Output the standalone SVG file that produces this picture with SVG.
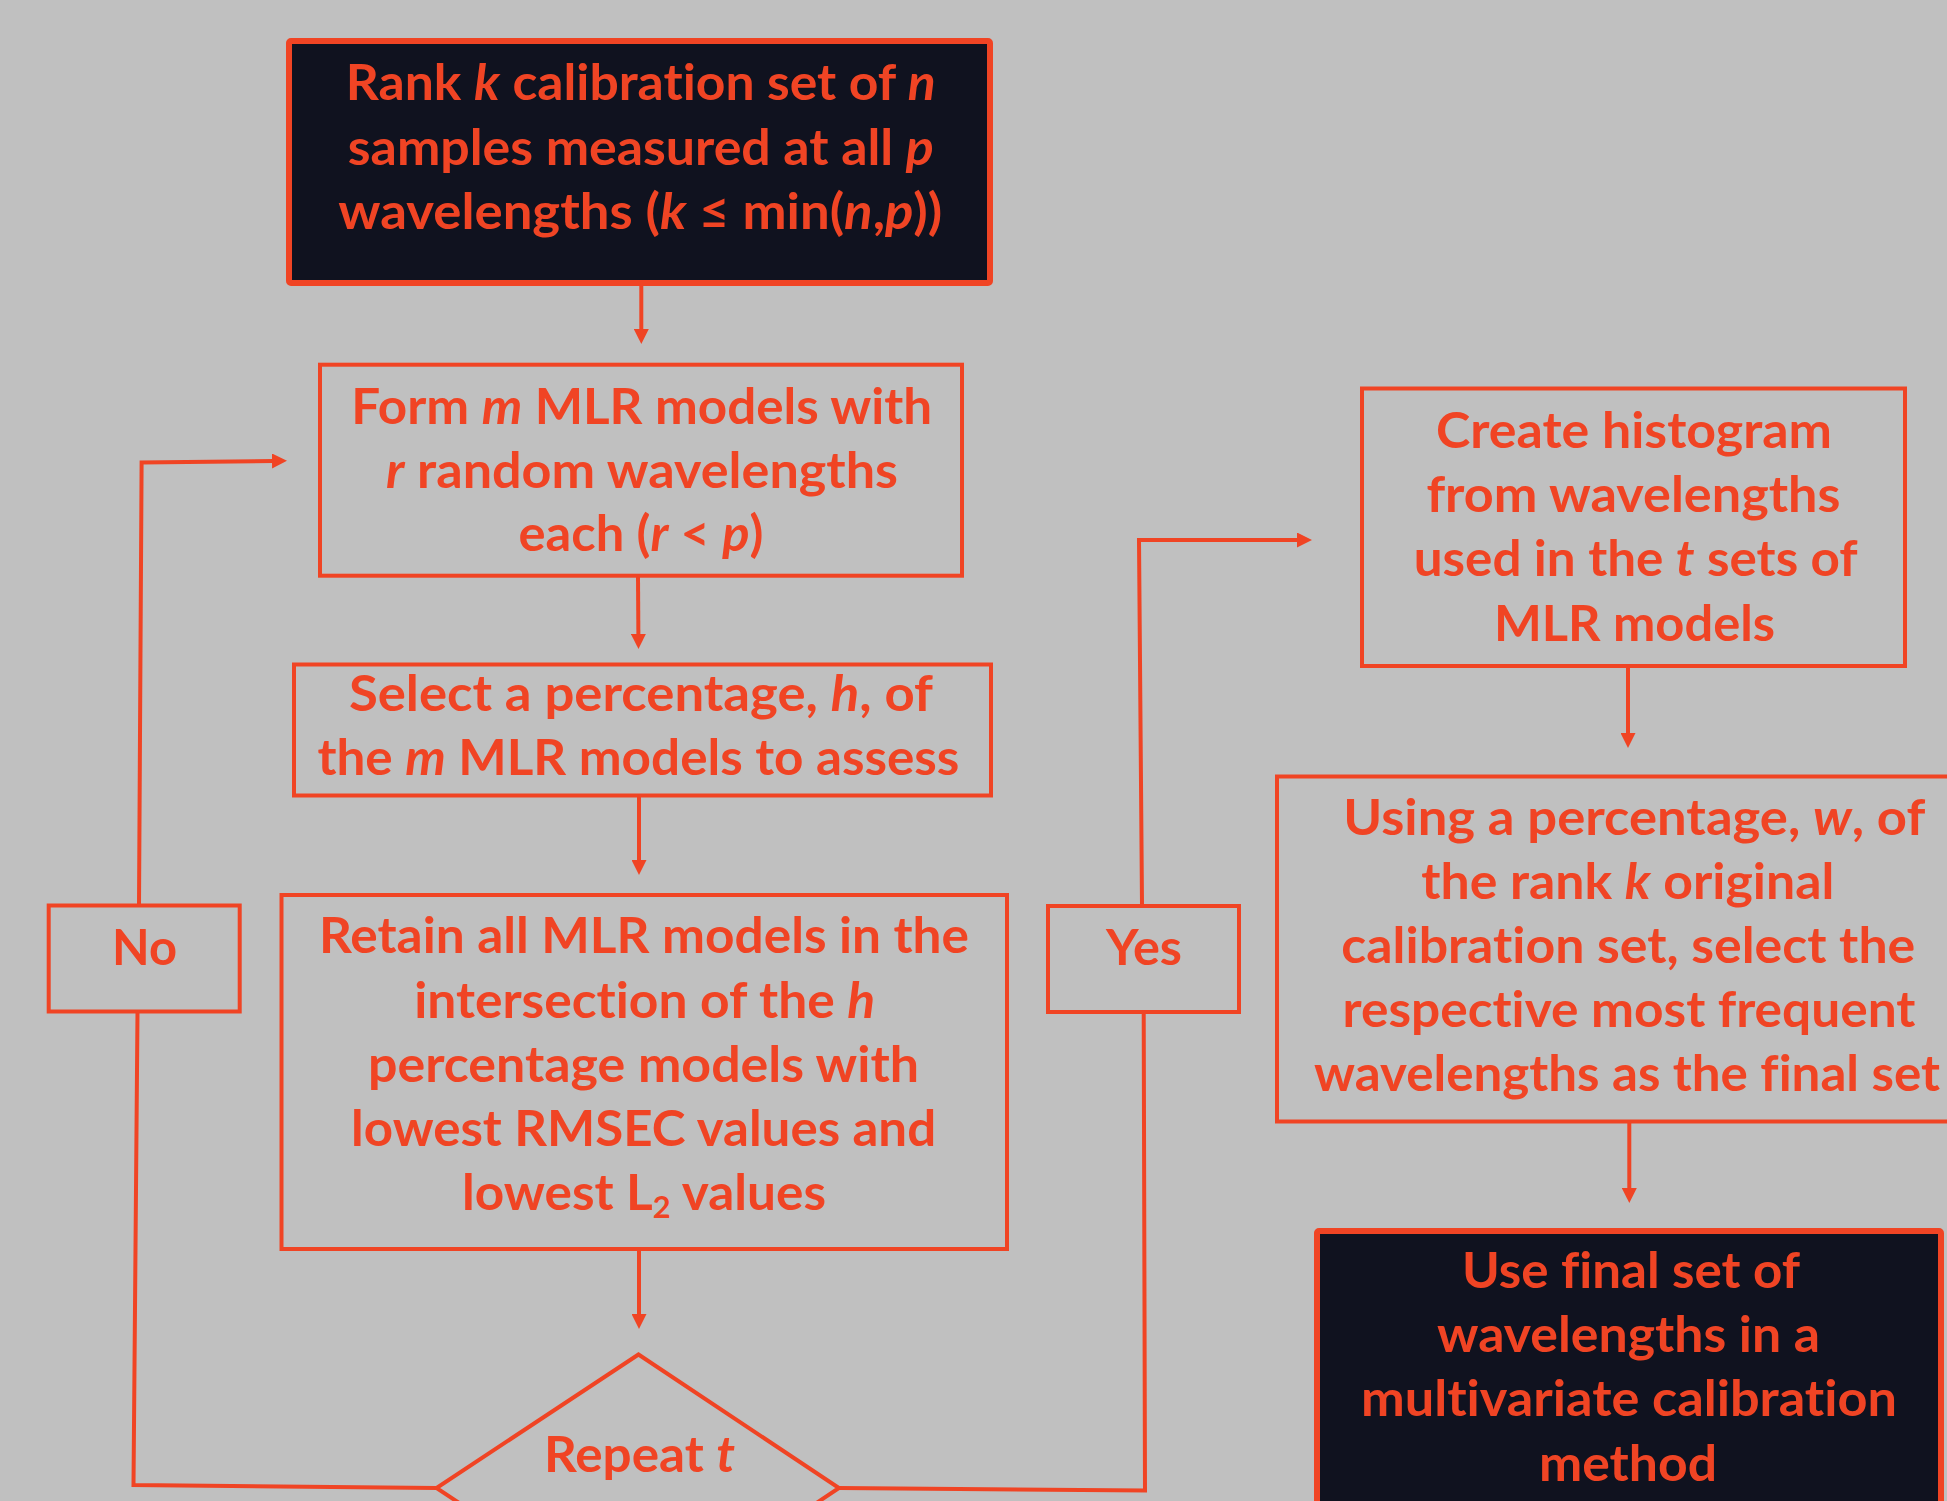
<svg xmlns="http://www.w3.org/2000/svg" width="1947" height="1501" viewBox="0 0 1947 1501">
<style>
.bg{fill:#C0C0C0}
.box{fill:none;stroke:#F04424;stroke-width:4}
.dark{fill:#10121F;stroke:#F04424;stroke-width:6}
.conn{fill:none;stroke:#F04424;stroke-width:4;stroke-linejoin:miter}
.t{fill:#F04424;font-family:Lato,"Open Sans","Liberation Sans",sans-serif;font-weight:700;font-size:50px;text-anchor:middle;font-variant-ligatures:no-common-ligatures no-discretionary-ligatures}
.i{font-style:italic}
.sub{font-size:30px}
</style>
<defs>
<marker id="ah" markerUnits="userSpaceOnUse" markerWidth="15" markerHeight="15" refX="2" refY="7.5" orient="auto">
<path d="M0,0 L15,7.5 L0,15 Z" fill="#F04424"/>
</marker>
</defs>
<rect class="bg" x="0" y="0" width="1947" height="1501"/>

<g id="connectors">
<path class="conn" d="M641.3,286 L641.3,331" marker-end="url(#ah)"/>
<path class="conn" d="M638,577 L638.4,636" marker-end="url(#ah)"/>
<path class="conn" d="M639,797 L639,862" marker-end="url(#ah)"/>
<path class="conn" d="M639,1250 L639,1316" marker-end="url(#ah)"/>
<path class="conn" d="M436.5,1488 L133.5,1485 L137.5,1012"/>
<path class="conn" d="M139,905 L141.6,462.5 L274,461" marker-end="url(#ah)"/>
<path class="conn" d="M839,1488 L1145,1490.5 L1143.7,1012"/>
<path class="conn" d="M1142,905 L1139,540 L1299,540" marker-end="url(#ah)"/>
<path class="conn" d="M1628,667 L1628,735" marker-end="url(#ah)"/>
<path class="conn" d="M1629.3,1122 L1629.3,1190" marker-end="url(#ah)"/>
</g>

<g id="start">
<rect class="dark" x="289" y="41" width="701" height="242" rx="2"/>
<text class="t" x="640.8" y="100" textLength="590" lengthAdjust="spacingAndGlyphs">Rank <tspan class="i">k</tspan> calibration set of <tspan class="i">n</tspan></text>
<text class="t" x="640.8" y="164.5" textLength="586" lengthAdjust="spacingAndGlyphs">samples measured at all <tspan class="i">p</tspan></text>
<text class="t" x="640.3" y="229" textLength="604" lengthAdjust="spacingAndGlyphs">wavelengths (<tspan class="i">k</tspan> ≤ min(<tspan class="i">n</tspan>,<tspan class="i">p</tspan>))</text>
</g>

<g id="form">
<rect class="box" x="320" y="364.7" width="642" height="211"/>
<text class="t" x="641.7" y="424" textLength="581" lengthAdjust="spacingAndGlyphs">Form <tspan class="i">m</tspan> MLR models with</text>
<text class="t" x="642" y="488" textLength="512" lengthAdjust="spacingAndGlyphs"><tspan class="i">r</tspan> random wavelengths</text>
<text class="t" x="641" y="551" textLength="245" lengthAdjust="spacingAndGlyphs">each (<tspan class="i">r</tspan> &lt; <tspan class="i">p</tspan>)</text>
</g>

<g id="select">
<rect class="box" x="294" y="664.5" width="697" height="131"/>
<text class="t" x="640.9" y="711" textLength="584" lengthAdjust="spacingAndGlyphs">Select a percentage, <tspan class="i">h</tspan>, of</text>
<text class="t" x="638.4" y="775" textLength="642" lengthAdjust="spacingAndGlyphs">the <tspan class="i">m</tspan> MLR models to assess</text>
</g>

<g id="retain">
<rect class="box" x="281.5" y="895" width="725.5" height="354"/>
<text class="t" x="644" y="953" textLength="650" lengthAdjust="spacingAndGlyphs">Retain all MLR models in the</text>
<text class="t" x="644.7" y="1018" textLength="461" lengthAdjust="spacingAndGlyphs">intersection of the <tspan class="i">h</tspan></text>
<text class="t" x="643.5" y="1081.6" textLength="551" lengthAdjust="spacingAndGlyphs">percentage models with</text>
<text class="t" x="643.6" y="1146" textLength="585" lengthAdjust="spacingAndGlyphs">lowest RMSEC values and</text>
<text class="t" x="644" y="1210" textLength="364" lengthAdjust="spacingAndGlyphs">lowest L<tspan class="sub" dy="8">2</tspan><tspan dy="-8"> values</tspan></text>
</g>

<g id="decision">
<polygon class="box" points="638.5,1354.5 839,1488 638.5,1621.5 436.5,1488"/>
<text class="t" x="639.5" y="1472" textLength="191" lengthAdjust="spacingAndGlyphs">Repeat <tspan class="i">t</tspan></text>
</g>

<g id="no">
<rect class="box" x="48.7" y="905.5" width="191" height="106"/>
<text class="t" x="144.5" y="965" textLength="65" lengthAdjust="spacingAndGlyphs">No</text>
</g>

<g id="yes">
<rect class="box" x="1048" y="906" width="191" height="106"/>
<text class="t" x="1144" y="965" textLength="76" lengthAdjust="spacingAndGlyphs">Yes</text>
</g>

<g id="histogram">
<rect class="box" x="1362" y="388.5" width="543" height="277.5"/>
<text class="t" x="1634" y="448" textLength="396" lengthAdjust="spacingAndGlyphs">Create histogram</text>
<text class="t" x="1633.4" y="512" textLength="414" lengthAdjust="spacingAndGlyphs">from wavelengths</text>
<text class="t" x="1635.7" y="576" textLength="444" lengthAdjust="spacingAndGlyphs">used in the <tspan class="i">t</tspan> sets of</text>
<text class="t" x="1634.5" y="641" textLength="281" lengthAdjust="spacingAndGlyphs">MLR models</text>
</g>

<g id="using">
<rect class="box" x="1277" y="776.5" width="720" height="345"/>
<text class="t" x="1634.3" y="835" textLength="582" lengthAdjust="spacingAndGlyphs">Using a percentage, <tspan class="i">w</tspan>, of</text>
<text class="t" x="1627.8" y="899" textLength="413" lengthAdjust="spacingAndGlyphs">the rank <tspan class="i">k</tspan> original</text>
<text class="t" x="1628.3" y="963" textLength="574" lengthAdjust="spacingAndGlyphs">calibration set, select the</text>
<text class="t" x="1629" y="1027" textLength="573" lengthAdjust="spacingAndGlyphs">respective most frequent</text>
<text class="t" x="1627" y="1091" textLength="626" lengthAdjust="spacingAndGlyphs">wavelengths as the final set</text>
</g>

<g id="final">
<rect class="dark" x="1317" y="1231" width="624" height="320" rx="2"/>
<text class="t" x="1631" y="1288" textLength="338" lengthAdjust="spacingAndGlyphs">Use final set of</text>
<text class="t" x="1628.5" y="1352" textLength="383" lengthAdjust="spacingAndGlyphs">wavelengths in a</text>
<text class="t" x="1629" y="1416" textLength="536" lengthAdjust="spacingAndGlyphs">multivariate calibration</text>
<text class="t" x="1628" y="1481" textLength="178" lengthAdjust="spacingAndGlyphs">method</text>
</g>
</svg>
